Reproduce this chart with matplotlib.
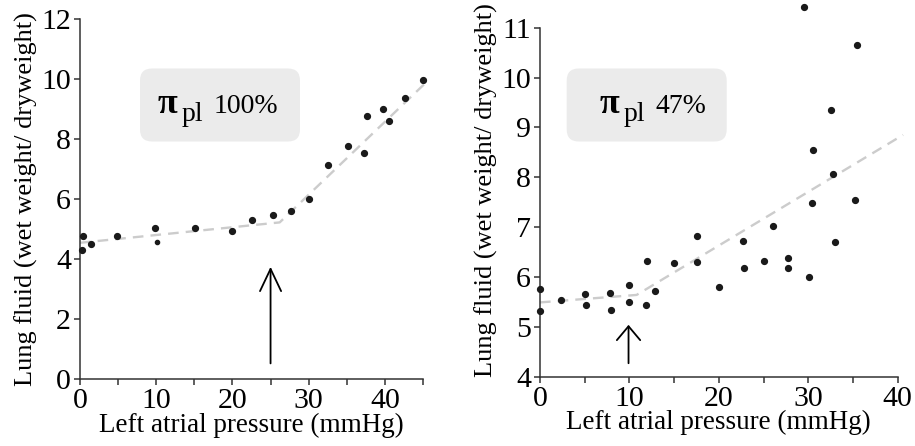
import matplotlib
matplotlib.use('Agg')
import matplotlib.pyplot as plt
from matplotlib.patches import FancyBboxPatch

plt.rcParams['font.family'] = ['Liberation Serif', 'DejaVu Serif']

# panel izquierdo: pi_pl 100%
x_100 = [0.35, 0.2, 1.4, 4.9, 9.9, 15.1, 20.0, 22.6, 25.3, 27.7, 30.0,
         32.6, 35.1, 37.2, 37.6, 39.8, 40.6, 42.7, 45.0]
y_100 = [4.77, 4.3, 4.5, 4.77, 5.04, 5.03, 4.94, 5.3, 5.46, 5.6, 6.0,
         7.14, 7.76, 7.52, 8.78, 9.0, 8.6, 9.36, 9.98]
x_100_small = [10.1]
y_100_small = [4.56]
fit_x_100 = [0, 26.2, 45.3]
fit_y_100 = [4.54, 5.22, 9.86]
arrow_100 = (25, 0.52, 3.74)

# panel derecho: pi_pl 47%
x_47 = [0, 0, 2.4, 5.07, 5.14, 7.86, 7.98, 10.0, 10.0, 11.9, 12.0, 12.9,
        15.0, 17.55, 17.6, 20.05, 22.7, 22.8, 25.0, 26.0, 27.7, 27.7,
        29.56, 30.1, 30.4, 30.56, 32.5, 32.8, 32.95, 35.2, 35.5]
y_47 = [5.75, 5.32, 5.54, 5.66, 5.44, 5.67, 5.33, 5.84, 5.50, 5.43, 6.33, 5.72,
        6.29, 6.83, 6.31, 5.79, 6.72, 6.18, 6.33, 7.02, 6.38, 6.19,
        11.41, 5.99, 7.49, 8.55, 9.34, 8.06, 6.71, 7.54, 10.66]
fit_x_47 = [0, 10.8, 40.6]
fit_y_47 = [5.49, 5.64, 8.85]
arrow_47 = (9.9, 4.27, 5.04)

W, H = 915, 446
fig = plt.figure(figsize=(W / 100, H / 100), dpi=100)

def px(x, y):
    return x / W, 1 - y / H

spine_c = '#333333'
dot_c = '#1a1a1a'
fit_c = '#cccccc'

def estilo(ax):
    for s in ['top', 'right']:
        ax.spines[s].set_visible(False)
    for s in ['left', 'bottom']:
        ax.spines[s].set_color(spine_c)
        ax.spines[s].set_linewidth(1.1)
    ax.tick_params(which='both', direction='out', color=spine_c, width=1.1,
                   labelsize=21.5, pad=2, length=4.5)
    ax.set_xlabel('Left atrial pressure (mmHg)', fontsize=19.5, labelpad=-1)
    ax.set_ylabel('Lung fluid (wet weight/ dryweight)', fontsize=19, labelpad=2)

# izquierdo
ax1 = fig.add_axes([80 / W, (H - 379) / H, 343 / W, 360 / H])
ax1.plot(fit_x_100, fit_y_100, color=fit_c, lw=1.7, dashes=(4.5, 3), zorder=1,
         clip_on=False)
ax1.plot(x_100, y_100, 'o', color=dot_c, ms=4.2, clip_on=False, zorder=3)
ax1.plot(x_100_small, y_100_small, 'o', color=dot_c, ms=3.0, clip_on=False, zorder=3)
ax1.set_xlim(0, 45)
ax1.set_ylim(0, 12)
ax1.set_xticks([0, 10, 20, 30, 40])
ax1.set_xticks([5, 15, 25, 35, 45], minor=True)
ax1.set_yticks([0, 2, 4, 6, 8, 10, 12])
estilo(ax1)
ax1.annotate('', xy=(arrow_100[0], arrow_100[2]), xytext=(arrow_100[0], arrow_100[1]),
             arrowprops=dict(arrowstyle='->,head_length=0.8,head_width=0.38',
                             lw=1.3, color='black', mutation_scale=20,
                             shrinkA=0, shrinkB=0))

# derecho
ax2 = fig.add_axes([540 / W, (H - 376.7) / H, 357.7 / W, 373.9 / H])
ax2.plot(fit_x_47, fit_y_47, color=fit_c, lw=1.7, dashes=(4.5, 3), zorder=1,
         clip_on=False)
ax2.plot(x_47, y_47, 'o', color=dot_c, ms=4.2, clip_on=False, zorder=3)
ax2.set_xlim(0, 40)
ax2.set_ylim(4, 11.5)
ax2.spines['left'].set_bounds(4, 11)
ax2.set_xticks([0, 10, 20, 30, 40])
ax2.set_xticks([5, 15, 25, 35], minor=True)
ax2.set_yticks([4, 5, 6, 7, 8, 9, 10, 11])
estilo(ax2)
ax2.annotate('', xy=(arrow_47[0], arrow_47[2]), xytext=(arrow_47[0], arrow_47[1]),
             arrowprops=dict(arrowstyle='->,head_length=0.5,head_width=0.42',
                             lw=1.3, color='black', mutation_scale=20,
                             shrinkA=0, shrinkB=0))

# cajas con etiqueta (en pulgadas para que las esquinas queden redondas)
def caja(x0, etiqueta, dx):
    r = 0.12
    fig.patches.append(FancyBboxPatch((x0 / 100 + r, (H - 141.5) / 100 + r),
                                      1.6 - 2 * r, 0.73 - 2 * r,
                                      boxstyle='round,pad=%f,rounding_size=%f' % (r, r),
                                      transform=fig.dpi_scale_trans,
                                      facecolor='#ebebeb', edgecolor='none',
                                      zorder=0))
    fig.text(*px(x0 + dx, 113), 'π', fontsize=26, fontweight='bold',
             ha='left', va='baseline')
    fig.text(*px(x0 + dx + 24, 121), 'pl', fontsize=20, ha='left', va='baseline')
    fig.text(*px(x0 + dx + 56, 113), etiqueta, fontsize=20, ha='left', va='baseline')

caja(140, '100%', 18)
caja(566.7, '47%', 33)

fig.savefig('out.png', dpi=100)
